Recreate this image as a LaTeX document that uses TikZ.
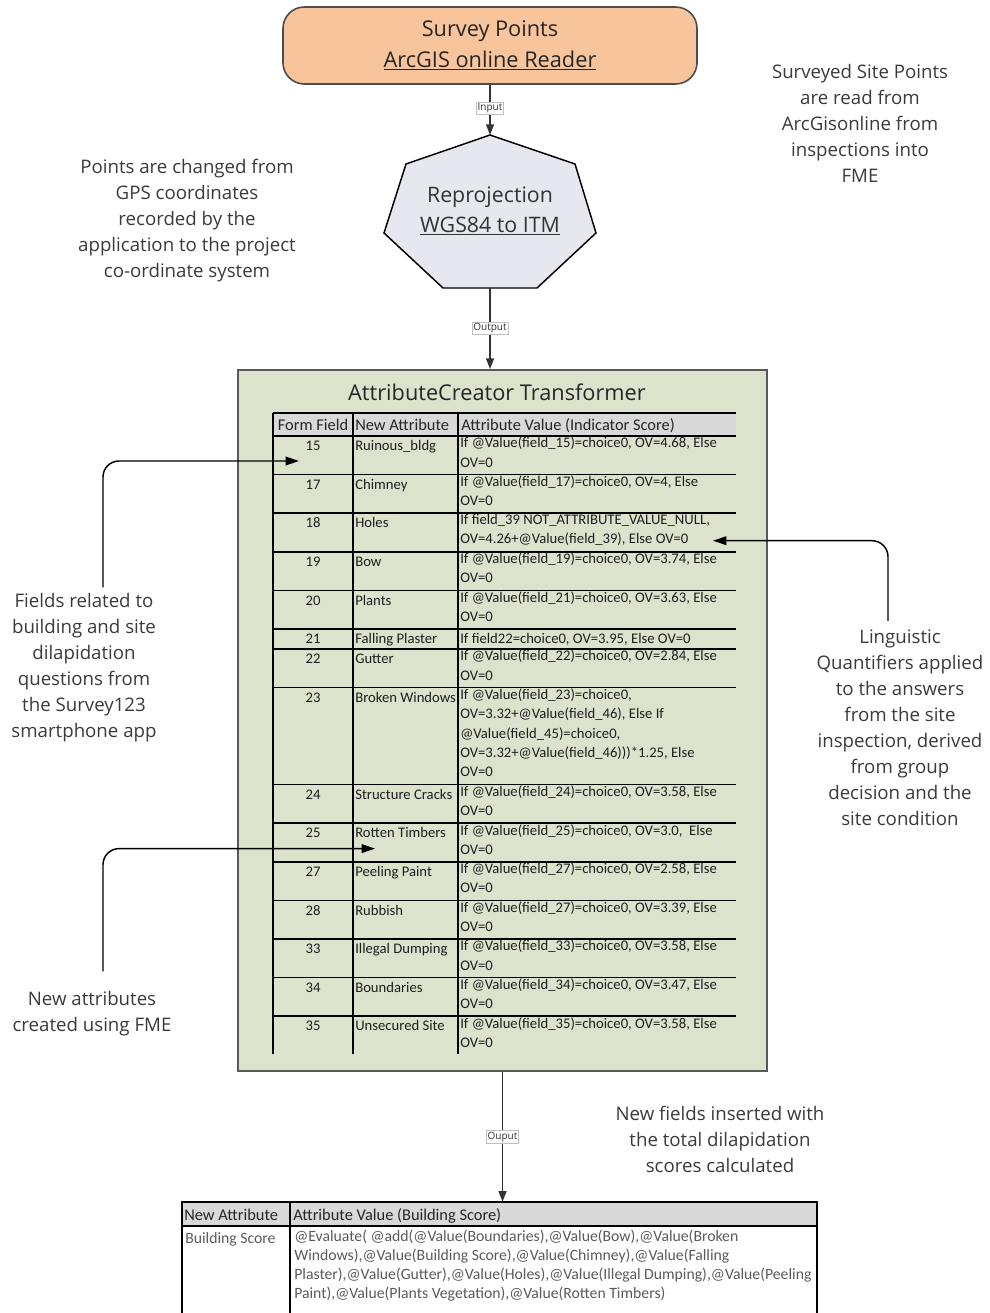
\documentclass[tikz,border=0pt]{standalone}
\usepackage{fontspec}
\setmainfont{Open Sans}
\newfontfamily\tabfont{Carlito}
\usetikzlibrary{arrows.meta,fit,positioning}
\definecolor{peach}{HTML}{F8C49C}
\definecolor{hepfill}{HTML}{E7E7EF}
\definecolor{acfill}{HTML}{DDE2CD}
\definecolor{hdrgray}{HTML}{D9D9D9}
\definecolor{notecol}{HTML}{3A3A3A}
\definecolor{celltxt}{HTML}{1E1E1E}
\definecolor{btxt}{HTML}{5A5A5A}
\tikzset{
  note/.style={align=center,text=notecol,font=\fontsize{14}{19.5}\selectfont,inner sep=0pt},
  flowlbl/.style={fill=white,draw=black!25,line width=0.4pt,inner sep=1pt,font=\fontsize{7.5}{8}\selectfont,text=black!80},
  flowarrow/.style={draw=black!80,line width=1.1pt,-{Triangle[length=8pt,width=6pt]}},
  callout/.style={draw=black,line width=1.1pt,rounded corners=12pt,-{Triangle[length=10pt,width=6.5pt]}},
  tline/.style={draw=black,line width=1.3pt},
  cell/.style={inner sep=0pt,align=left,text=celltxt,font=\tabfont\fontsize{11}{14.5}\selectfont,execute at begin node=\strut},
  hcell/.style={inner sep=0pt,text=black!85,font=\tabfont\fontsize{12.3}{14}\selectfont},
  bcell/.style={inner sep=0pt,align=left,text=btxt,font=\tabfont\fontsize{11.8}{14.3}\selectfont,execute at begin node=\strut},
}
\begin{document}
\begin{tikzpicture}[x=0.75pt,y=-0.75pt]
\useasboundingbox (0,0) rectangle (989,1313);

% Survey points reader
\node[draw=black!70,line width=1.2pt,fill=peach,rounded corners=16pt,
      minimum width=310.5pt,minimum height=57.75pt,align=center,
      font=\fontsize{16.3}{23}\selectfont,text=black!85] (sp) at (490,45.5)
      {Survey Points\\\underline{ArcGIS online Reader}};

% Reprojection heptagon
\fill[hepfill] (490,135) -- (575,164) -- (596,233) -- (537,288) -- (443,288) -- (384,233) -- (406,164) -- cycle;
\draw[black,line width=1.1pt] (490,135) -- (575,164) -- (596,233) -- (537,288) -- (443,288) -- (384,233) -- (406,164) -- cycle;
\coordinate (reptop) at (490,135);
\coordinate (repbot) at (490,288);
\node[align=center,font=\fontsize{16}{22.5}\selectfont,text=black!80,inner sep=0pt] (rep) at (490,211)
      {Reprojection\\\underline{WGS84 to ITM}};

% AttributeCreator box
\node[fit={(238,370)(767,1071)},inner sep=0pt,draw=black!65,line width=1.5pt,fill=acfill] (ac) {};
\node[font=\fontsize{16.3}{20}\selectfont,text=black!85,inner sep=0pt] (actitle) at (497,392) {AttributeCreator Transformer};

% flow arrows
\draw[flowarrow] (sp.south) -- node[flowlbl,pos=0.47] (lin) {Input} (reptop);
\draw[flowarrow] (repbot) -- node[flowlbl,pos=0.5] (lout) {Output} (repbot |- ac.north);

% inner table
\node[fit={(273,413)(736,436)},inner sep=0pt,fill=hdrgray] (hdr) {};
\foreach \yy in {413,436,474.6,513.2,551.8,590.4,629,649,687.6,784.6,823.2,861.8,900.4,939,977.6,1016.2}
  \draw[tline] (273,\yy) -- (736,\yy);
\foreach \xx in {273,353,458}
  \draw[tline] (\xx,413) -- (\xx,1054);
\node[hcell,anchor=base] (h1) at (313,430) {Form Field};
\node[hcell,anchor=base west] (h2) at (355,430) {New Attribute};
\node[hcell,anchor=base west] (h3) at (461,430) {Attribute Value (Indicator Score)};

\foreach \t/\n/\a/\v in {
 436/15/{Ruinous\_bldg}/{If @Value(field\_15)=choice0, OV=4.68, Else\\OV=0},
 474.6/17/{Chimney}/{If @Value(field\_17)=choice0, OV=4, Else\\OV=0},
 513.2/18/{Holes}/{If field\_39 NOT\_ATTRIBUTE\_VALUE\_NULL,\\OV=4.26+@Value(field\_39), Else OV=0},
 551.8/19/{Bow}/{If @Value(field\_19)=choice0, OV=3.74, Else\\OV=0},
 590.4/20/{Plants}/{If @Value(field\_21)=choice0, OV=3.63, Else\\OV=0},
 629/21/{Falling Plaster}/{If field22=choice0, OV=3.95, Else OV=0},
 649/22/{Gutter}/{If @Value(field\_22)=choice0, OV=2.84, Else\\OV=0},
 687.6/23/{Broken Windows}/{If @Value(field\_23)=choice0,\\OV=3.32+@Value(field\_46), Else If\\@Value(field\_45)=choice0,\\OV=3.32+@Value(field\_46)))*1.25, Else\\OV=0},
 784.6/24/{Structure Cracks}/{If @Value(field\_24)=choice0, OV=3.58, Else\\OV=0},
 823.2/25/{Rotten Timbers}/{If @Value(field\_25)=choice0, OV=3.0,\ \ Else\\OV=0},
 861.8/27/{Peeling Paint}/{If @Value(field\_27)=choice0, OV=2.58, Else\\OV=0},
 900.4/28/{Rubbish}/{If @Value(field\_27)=choice0, OV=3.39, Else\\OV=0},
 939/33/{Illegal Dumping}/{If @Value(field\_33)=choice0, OV=3.58, Else\\OV=0},
 977.6/34/{Boundaries}/{If @Value(field\_34)=choice0, OV=3.47, Else\\OV=0},
 1016.2/35/{Unsecured Site}/{If @Value(field\_35)=choice0, OV=3.58, Else\\OV=0}}
{
  \node[cell,anchor=north] (num\n) at (313,\t+0.8) {\n};
  \node[cell,anchor=north west] (att\n) at (355,\t+0.8) {\a};
  \node[cell,anchor=north west] (val\n) at (460,\t+0.8) {\v};
}

% bottom table
\node[fit={(182,1202)(817,1226)},inner sep=0pt,fill=hdrgray] (bth) {};
\draw[tline] (182,1313) -- (182,1202) -- (817,1202) -- (817,1313);
\draw[tline] (182,1226) -- (817,1226);
\draw[tline] (290,1202) -- (290,1313);
\node[hcell,anchor=base west] (bh1) at (184,1220) {New Attribute};
\node[hcell,anchor=base west] (bh2) at (293,1220) {Attribute Value (Building Score)};
\node[bcell,anchor=north west] (bs) at (185,1230) {Building Score};
\node[bcell,anchor=north west] (bv) at (294,1230)
  {@Evaluate( @add(@Value(Boundaries),@Value(Bow),@Value(Broken\\
   Windows),@Value(Building Score),@Value(Chimney),@Value(Falling\\
   Plaster),@Value(Gutter),@Value(Holes),@Value(Illegal Dumping),@Value(Peeling\\
   Paint),@Value(Plants Vegetation),@Value(Rotten Timbers)};

\draw[flowarrow] (ac.south) -- node[flowlbl,pos=0.5] (louput) {Ouput} (ac.south |- bth.north);

% annotations
\node[note] (ptsnote) at (187,221) {Points are changed from\\GPS coordinates\\recorded by the\\application to the project\\co-ordinate system};
\node[note] (srvnote) at (860,123) {Surveyed Site Points\\are read from\\ArcGisonline from\\inspections into\\FME};
\node[note] (fldnote) at (84,668) {Fields related to\\building and site\\dilapidation\\questions from\\the Survey123\\smartphone app};
\node[note] (lingnote) at (900,728) {Linguistic\\Quantifiers applied\\to the answers\\from the site\\inspection, derived\\from group\\decision and the\\site condition};
\node[note] (newattr) at (92,1014) {New attributes\\created using FME};
\node[note] (newfld) at (720,1139) {New fields inserted with\\the total dilapidation\\scores calculated};

% callout arrows
\coordinate (c1) at (299,461);
\coordinate (c2) at (375,848.6);
\coordinate (c3) at (713,540.7);
\draw[callout] ([shift={(19,-6)}]fldnote.north) |- (c1);
\draw[callout] ([shift={(11,-20)}]newattr.north) |- (c2);
\draw[callout] ([shift={(-12,-9)}]lingnote.north) |- (c3);
\end{tikzpicture}
\end{document}
